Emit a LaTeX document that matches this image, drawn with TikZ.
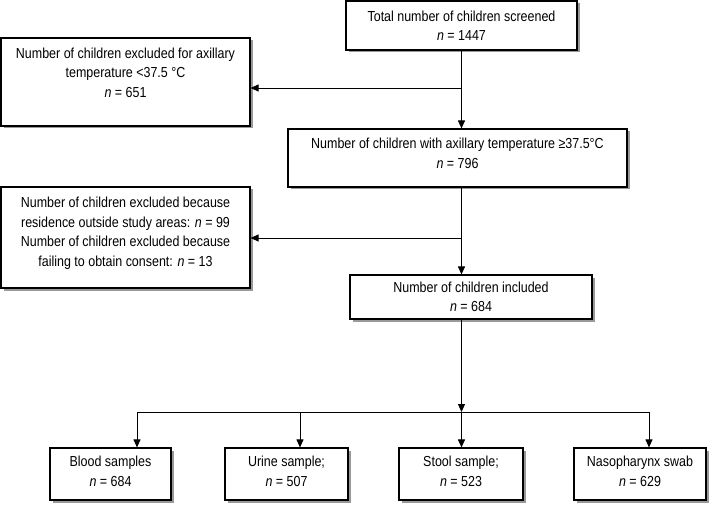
\documentclass[tikz,border=0pt]{standalone}
\usepackage{fontspec}
\setmainfont[FakeStretch=0.86]{Liberation Sans}
\usetikzlibrary{shadows,arrows.meta}
\tikzset{
  box/.style={draw=black, line width=1.1pt, fill=white, align=center, inner sep=0pt,
    drop shadow={shadow xshift=2.5pt, shadow yshift=-2.5pt, fill=black!40, opacity=1},
    font=\fontsize{14.5}{19.5}\selectfont},
  conn/.style={draw=black, line width=0.9pt},
  arr/.style={conn, -{Triangle[length=8pt,width=7pt]}}
}
\begin{document}
\begin{tikzpicture}[x=1pt,y=-1pt]
\useasboundingbox (0,0) rectangle (709,505);
\node[box, minimum width=231pt, minimum height=49pt] (top) at (461.5,25.5)
  {Total number of children screened\\ \textit{n} = 1447};
\node[box, minimum width=249pt, minimum height=88pt] (ex1) at (125.5,82)
  {Number of children excluded for axillary\\ temperature <37.5 °C\\ \textit{n} = 651\\ \mbox{}};
\node[box, minimum width=339pt, minimum height=58pt] (fev) at (457.5,158)
  {Number of children with axillary temperature ≥37.5°C\\ \textit{n} = 796\\[-10pt]\mbox{}};
\node[box, minimum width=249pt, minimum height=101pt] (ex2) at (125.5,237.5)
  {Number of children excluded because\\ residence outside study areas: \textit{n} = 99\\ Number of children excluded because\\ failing to obtain consent: \textit{n} = 13\\[-8pt]\mbox{}};
\node[box, minimum width=242pt, minimum height=44pt] (inc) at (471,297)
  {Number of children included\\ \textit{n} = 684};
\node[box, minimum width=121pt, minimum height=52pt] (bl) at (110.5,474)
  {Blood samples\\ \textit{n} = 684\\[-14pt]\mbox{}};
\node[box, minimum width=123pt, minimum height=52pt] (ur) at (286.5,474)
  {Urine sample;\\ \textit{n} = 507\\[-14pt]\mbox{}};
\node[box, minimum width=124pt, minimum height=52pt] (st) at (461,474)
  {Stool sample;\\ \textit{n} = 523\\[-14pt]\mbox{}};
\node[box, minimum width=132pt, minimum height=52pt] (na) at (640,474)
  {Nasopharynx swab\\ \textit{n} = 629\\[-14pt]\mbox{}};

\coordinate (j1) at (461.5,88);
\coordinate (j2) at (461.5,238);
\coordinate (bus) at (461.5,412);
\coordinate (busL) at (137,412);
\coordinate (busR) at (649,412);

\draw[arr] (top.south -| j1) -- (fev.north -| j1);
\draw[arr] (j1) -- (ex1.east |- j1);
\draw[arr] (fev.south -| j2) -- (inc.north -| j2);
\draw[arr] (j2) -- (ex2.east |- j2);
\draw[arr] (inc.south -| bus) -- (bus);
\draw[conn] (busL) -- (busR);
\draw[arr] (busL) -- (bl.north -| busL);
\draw[arr] (busL -| 300,0) -- (ur.north -| 300,0);
\draw[arr] (bus) -- (st.north -| bus);
\draw[arr] (busR) -- (na.north -| busR);
\end{tikzpicture}
\end{document}
